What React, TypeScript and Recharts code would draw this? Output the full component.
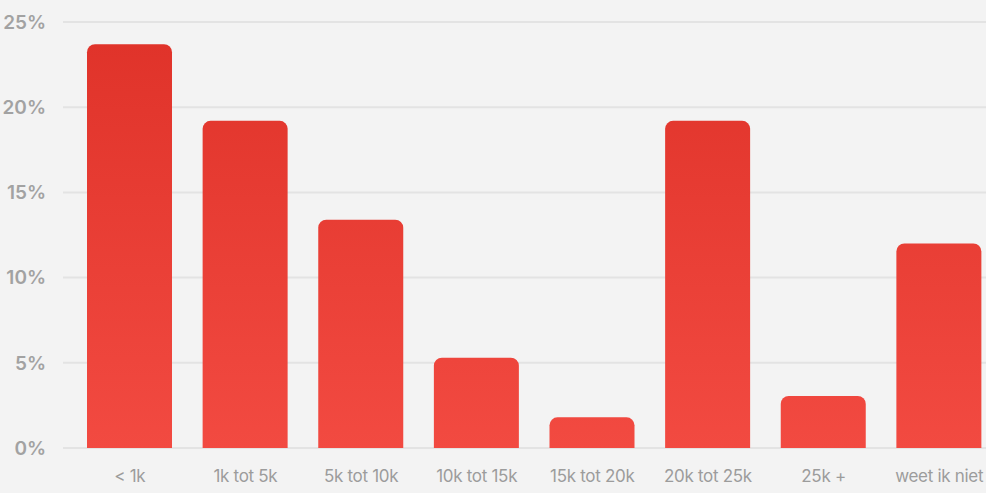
import React from 'react';
import { BarChart, Bar, XAxis, YAxis, CartesianGrid } from 'recharts';

const categories = ['< 1k', '1k tot 5k', '5k tot 10k', '10k tot 15k', '15k tot 20k', '20k tot 25k', '25k +', 'weet ik niet'];
const shares = [23.7, 19.2, 13.4, 5.3, 1.8, 19.2, 3.05, 12.0];
const yTicks = [0, 5, 10, 15, 20, 25];

const data = categories.map((name, i) => ({ name, value: shares[i] }));

export default function App() {
  return (
    <div
      style={{
        position: 'absolute',
        left: 0,
        top: 0,
        width: 986,
        height: 493,
        overflow: 'hidden',
        background: '#f3f3f3',
        fontFamily: 'Inter, sans-serif'
      }}
    >
      <BarChart
        width={1003}
        height={493}
        data={data}
        margin={{ top: 22, right: 6, left: 0, bottom: 5 }}
      >
        <defs>
          <linearGradient id="barFill" gradientUnits="userSpaceOnUse" x1="0" y1="22" x2="0" y2="448">
            <stop offset="0%" stopColor="#df3229" />
            <stop offset="100%" stopColor="#f24a41" />
          </linearGradient>
        </defs>
        <CartesianGrid vertical={false} stroke="#e3e3e3" strokeWidth={2} />
        <XAxis
          dataKey="name"
          axisLine={false}
          tickLine={false}
          tickSize={0}
          tickMargin={22}
          height={40}
          padding={{ left: 9, right: 0 }}
          interval={0}
          tick={{ fill: '#9c9c9c', fontSize: 17, letterSpacing: -0.3 }}
        />
        <YAxis
          width={63}
          domain={[0, 25]}
          ticks={yTicks}
          axisLine={false}
          tickLine={false}
          tickSize={0}
          tickMargin={17}
          tickFormatter={(v) => `${v}%`}
          tick={{ fill: '#a2a2a2', fontSize: 19, fontWeight: 600 }}
        />
        <Bar dataKey="value" fill="url(#barFill)" barSize={85} radius={[8, 8, 0, 0]} isAnimationActive={false} />
      </BarChart>
    </div>
  );
}
